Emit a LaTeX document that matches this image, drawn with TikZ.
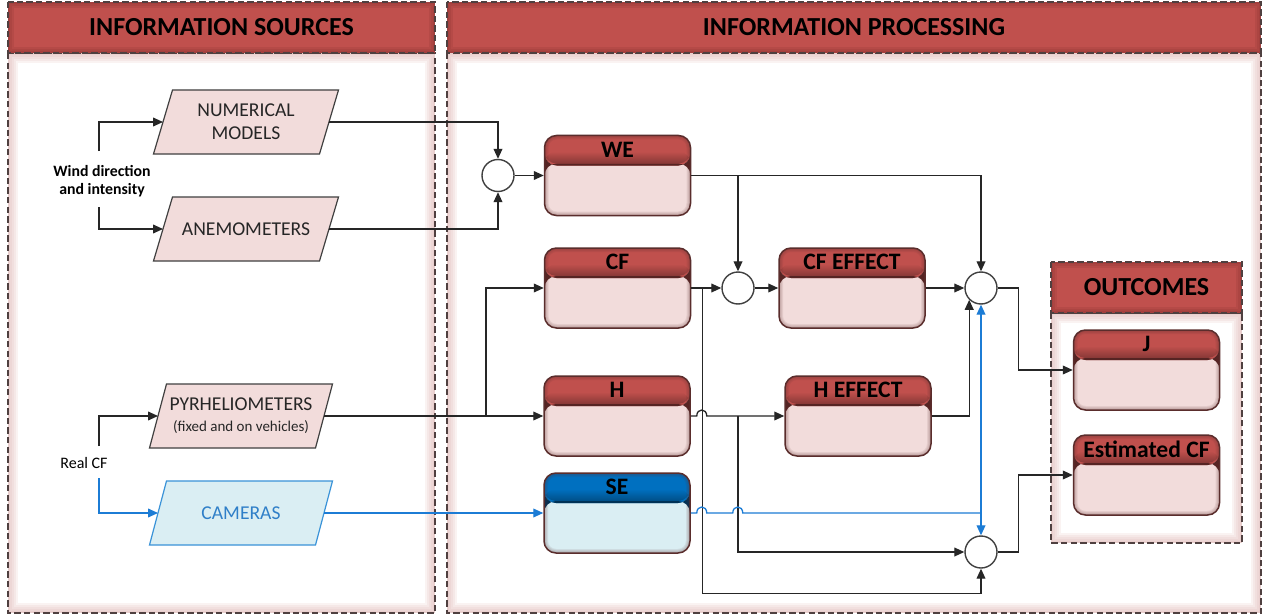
\documentclass[tikz,border=0pt]{standalone}
\usepackage{fontspec}
\setmainfont{Carlito}
\usetikzlibrary{arrows.meta,calc}

\definecolor{headred}{HTML}{C0504D}
\definecolor{headredd}{HTML}{7E2C2A}
\definecolor{bodypink}{HTML}{F2DCDB}
\definecolor{headblue}{HTML}{0070C0}
\definecolor{bodyblue}{HTML}{DAEEF3}
\definecolor{boxline}{HTML}{5A2D2C}
\definecolor{wirecol}{HTML}{262626}
\definecolor{bluewire}{HTML}{1C7CD5}
\definecolor{pgline}{HTML}{404040}
\definecolor{camline}{HTML}{3A93D8}
\definecolor{camtext}{HTML}{2F7FC8}
\definecolor{panelline}{HTML}{4F4040}
\definecolor{glow}{HTML}{D9A3A2}

\tikzset{
  panelframe/.style={draw=panelline, line width=0.9pt, dash pattern=on 3.2pt off 1.6pt},
  headtext/.style={font=\bfseries\fontsize{13}{15}\selectfont, inner sep=0pt},
  boxtext/.style={font=\bfseries\fontsize{11.8}{13}\selectfont, inner sep=0pt},
  procshape/.style={draw=boxline, line width=0.75pt, rounded corners=6pt,
    minimum width=73pt, minimum height=40pt, inner sep=0pt},
  pgshape/.style={draw=pgline, line width=0.6pt, fill=bodypink},
  pgshape text/.style={font=\fontsize{9.8}{11.5}\selectfont, align=center, text=black!85, inner sep=0pt},
  camshape/.style={draw=camline, line width=0.6pt, fill=bodyblue},
  camshape text/.style={font=\fontsize{9.8}{11.5}\selectfont, align=center, text=camtext, inner sep=0pt},
  wire/.style={draw=wirecol, line width=0.65pt},
  arr/.style={wire, -{Triangle[length=5pt,width=4.4pt]}},
  bluearr/.style={arr, draw=bluewire},
  junction/.style={circle, draw=pgline, fill=white, line width=0.7pt,
    minimum size=16pt, inner sep=0pt},
  sidelabel/.style={font=\fontsize{7.9}{9}\selectfont, align=center, inner sep=0pt},
}

% dashed panel with a red title bar: x1, y1, x2, y2 (bar bottom), y3 (panel bottom), title, name
\newcommand\panel[7]{%
  \fill[white] (#1,#4) rectangle (#3,#5);
  \foreach \w in {1,2,3,4,5}{%
    \draw[glow, opacity=.13, line width=\w pt] (#1+\w,#4+\w) rectangle (#3-\w,#5-\w);}
  \draw[panelframe] (#1,#4) rectangle (#3,#5);
  \fill[headred] (#1,#2) rectangle (#3,#4);
  \foreach \w in {1,2,3}{%
    \draw[headredd, opacity=.16, line width=\w pt] (#1+\w,#2+\w) rectangle (#3-\w,#4-\w);}
  \draw[panelframe] (#1,#2) rectangle (#3,#4);
  \node[headtext] (#7) at ({(#1+#3)/2},{(#2+#4)/2}) {#6};
}

% rounded processing block with a coloured title strip: name, centre, label, strip colour, body colour
\newcommand\procbox[5]{%
  \node[procshape, fill=#5, path picture={
      \fill[#4] (path picture bounding box.north west) rectangle
        ([yshift=-15pt]path picture bounding box.north east);
      \shade[top color=#4, bottom color=#4!70!black]
        ([yshift=-8pt]path picture bounding box.north west) rectangle
        ([yshift=-14pt]path picture bounding box.north east);
      \fill[#4!45!black] ([yshift=-14pt]path picture bounding box.north west) rectangle
        ([yshift=-15pt]path picture bounding box.north east);
      \foreach \w in {1,2,3,4}{%
        \draw[boxline, opacity=.09, line width=\w pt, rounded corners=6pt]
          (path picture bounding box.south west) rectangle (path picture bounding box.north east);}
    }] (#1) at (#2) {};
  \node[boxtext] (#1-t) at ([yshift=-7.5pt]#1.north) {#3};
}

% slanted input block: name, cx, cy, style, text, half slant
\newcommand\pgram[6]{%
  \draw[#4] (#2-83+#6,#3-32) -- (#2+83+#6,#3-32) -- (#2+83-#6,#3+32) -- (#2-83-#6,#3+32) -- cycle;
  \coordinate (#1-in) at (#2-83,#3);
  \coordinate (#1-out) at (#2+83,#3);
  \node[#4 text] (#1) at (#2,#3) {#5};
}

\begin{document}
\begin{tikzpicture}[x=0.5pt, y=-0.5pt]
\useasboundingbox (0,0) rectangle (1263,615);

% panels
\panel{8}{2}{435}{53}{613}{INFORMATION SOURCES}{srctitle}
\panel{447}{2}{1261}{53}{613}{INFORMATION PROCESSING}{proctitle}
\panel{1051}{262}{1242}{313}{543}{OUTCOMES}{outtitle}

% input blocks
\pgram{nm}{246}{122}{pgshape}{NUMERICAL\\MODELS}{9.5}
\pgram{an}{246}{229}{pgshape}{ANEMOMETERS}{9.5}
\pgram{py}{241}{416}{pgshape}{PYRHELIOMETERS\\[-1pt]{\fontsize{7.5}{9}\selectfont(fixed and on vehicles)}}{8.5}
\pgram{cam}{241}{513}{camshape}{CAMERAS}{8.5}

\node[sidelabel, font=\bfseries\fontsize{7.9}{9}\selectfont] (wind) at (102,181) {Wind direction\\and intensity};
\node[sidelabel, font=\fontsize{8}{9}\selectfont] (realcf) at (84,463) {Real CF};
\coordinate (wind-a) at (99,151);
\coordinate (wind-b) at (99,207);
\coordinate (real-a) at (99,446);
\coordinate (real-b) at (99,478);

% processing blocks
\procbox{we}{617.5,175.5}{WE}{headred}{bodypink}
\procbox{cf}{617.5,288}{CF}{headred}{bodypink}
\procbox{h}{617,416}{H}{headred}{bodypink}
\procbox{se}{617,513}{SE}{headblue}{bodyblue}
\procbox{cfe}{852,288}{CF EFFECT}{headred}{bodypink}
\procbox{he}{858,416}{H EFFECT}{headred}{bodypink}
\procbox{j}{1146.5,370}{J}{headred}{bodypink}
\procbox{est}{1146.5,475}{Estimated CF}{headred}{bodypink}

% summing junctions
\node[junction] (c1) at (498,175.5) {};
\node[junction] (c2) at (738,288) {};
\node[junction] (c3) at (981,288) {};
\node[junction] (c4) at (981,552) {};

% source connectors
\draw[arr] (wind-a) |- (nm-in);
\draw[arr] (wind-b) |- (an-in);
\draw[arr] (real-a) |- (py-in);
\draw[bluearr] (real-b) |- (cam-in);

\draw[arr] (nm-out) -| (c1.north);
\draw[arr] (an-out) -| (c1.south);
\draw[arr] (c1.east) -- (we.west);

\coordinate (split) at (486,416);
\draw[arr] (py-out) -- (h.west);
\draw[arr] (split) |- (cf.west);
\draw[bluearr] (cam-out) -- (se.west);

% processing connectors
\draw[arr] (we.east) -| (c3.north);
\draw[arr] (we.east -| c2.north) -- (c2.north);
\draw[arr] (cf.east) -- (c2.west);
\draw[arr] (c2.east) -- (cfe.west);
\draw[arr] (cfe.east) -- (c3.west);
\draw[arr] ($(cf.east)+(11,0)$) |- ($(c4.south)+(0,25)$) -- (c4.south);

\draw[arr] (h.east) -- ($(h.east)+(6,0)$)
  .. controls +(0,-8) and +(0,-8) .. ($(h.east)+(16,0)$) -- (he.west);
\draw[arr] (h.east -| c2.center) |- (c4.west);
\draw[arr] (he.east) -| (c3.-135);

\coordinate (bluejoin) at (se.east -| c3.center);
\draw[draw=bluewire, line width=0.65pt] (se.east) -- ($(se.east)+(6,0)$)
  .. controls +(0,-8) and +(0,-8) .. ($(se.east)+(16,0)$)
  -- ($(se.east)+(42,0)$)
  .. controls +(0,-8) and +(0,-8) .. ($(se.east)+(52,0)$) -- (bluejoin);
\draw[bluearr] (bluejoin) -- (c3.south);
\draw[bluearr] (bluejoin) -- (c4.north);

\draw[arr] (c3.east) -- ($(c3.east)+(21,0)$) |- (j.west);
\draw[arr] (c4.east) -- ($(c4.east)+(21,0)$) |- (est.west);
\end{tikzpicture}
\end{document}
